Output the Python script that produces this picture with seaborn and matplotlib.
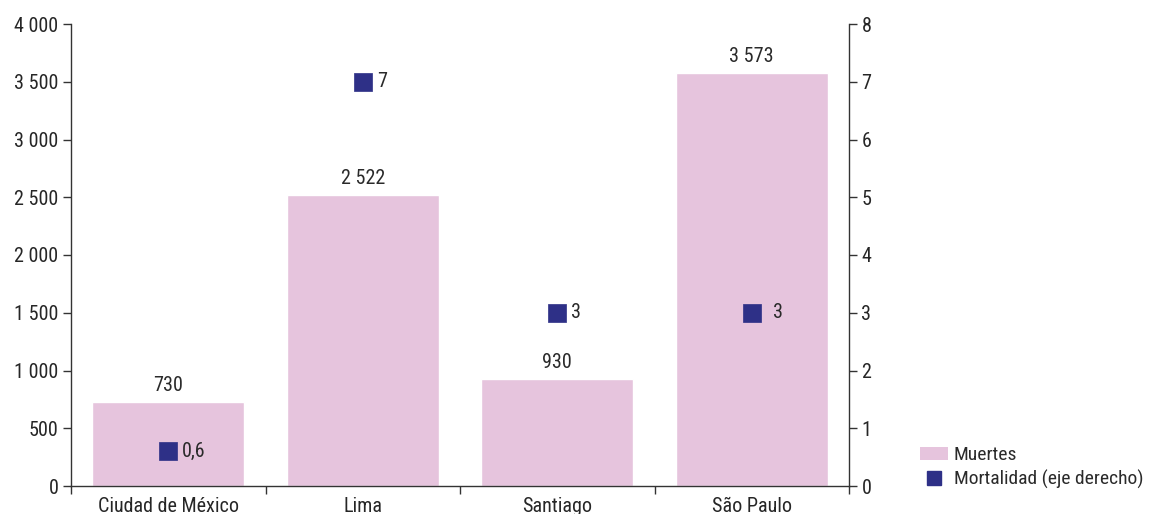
import matplotlib
matplotlib.use("Agg")
import matplotlib.pyplot as plt
import seaborn as sns
import pandas as pd
from matplotlib.patches import Patch
from matplotlib.lines import Line2D
from matplotlib.ticker import FuncFormatter, FixedLocator
from matplotlib import font_manager

cities = ["Ciudad de México", "Lima", "Santiago", "São Paulo"]
muertes = [730, 2522, 930, 3573]
mortalidad = [0.6, 7, 3, 3]
mort_labels = ["0,6", "7", "3", "3"]
legend_labels = ["Muertes", "Mortalidad (eje derecho)"]

bar_color = "#E6C4DD"
mark_color = "#2E3087"
axis_color = "#333333"

installed = {f.name for f in font_manager.fontManager.ttflist}
family = "DejaVu Sans"
for cand in ["Liberation Sans Narrow", "Roboto Condensed", "Open Sans Condensed", "Roboto"]:
    if cand in installed:
        family = cand
        break

FS = 14.5

sns.set_style("white")
plt.rcParams["font.family"] = [family, "DejaVu Sans"]
plt.rcParams["font.size"] = FS
plt.rcParams["text.color"] = "#2a2a2a"
plt.rcParams["font.stretch"] = "condensed"

df = pd.DataFrame({"city": cities, "muertes": muertes, "mortalidad": mortalidad})

fig = plt.figure(figsize=(11.51, 5.14), dpi=100)
ax = fig.add_axes([71/1151, 1-486/514, (849-71)/1151, (486-24)/514])
sns.barplot(data=df, x="city", y="muertes", color=bar_color, width=0.78,
            saturation=1, ax=ax)
ax.set_xlim(-0.5, 3.5)
ax.set_ylim(0, 4000)
ax.set_xlabel("")
ax.set_ylabel("")
ax.set_yticks(range(0, 4001, 500))
ax.yaxis.set_major_formatter(FuncFormatter(lambda v, p: f"{int(v):,}".replace(",", " ")))

for i, v in enumerate(muertes):
    ax.annotate(f"{v:,}".replace(",", " "), xy=(i, v), xytext=(0, 5),
                textcoords="offset points", ha="center", va="bottom", fontsize=FS)

ax.xaxis.set_major_locator(FixedLocator([-0.5, 0.5, 1.5, 2.5, 3.5]))
ax.xaxis.set_minor_locator(FixedLocator([0, 1, 2, 3]))
ax.set_xticklabels([], minor=False)
ax.set_xticklabels(cities, minor=True)
ax.tick_params(axis="x", which="major", length=6, width=1, color=axis_color, direction="out", bottom=True)
ax.tick_params(axis="x", which="minor", length=0, pad=8, labelsize=FS)
ax.tick_params(axis="y", length=6, width=1, color=axis_color, direction="out", left=True, labelsize=FS, pad=3)

for s in ["left", "bottom"]:
    ax.spines[s].set_color(axis_color)
    ax.spines[s].set_linewidth(1)
ax.spines["top"].set_visible(False)
ax.spines["right"].set_visible(False)

ax2 = ax.twinx()
sns.scatterplot(data=df, x="city", y="mortalidad", marker="s", s=160, color=mark_color,
                edgecolor=mark_color, linewidth=0.5, ax=ax2, zorder=5)
ax2.set_ylim(0, 8)
ax2.set_xlim(-0.5, 3.5)
ax2.set_yticks(range(0, 9))
ax2.set_ylabel("")
ax2.tick_params(axis="y", length=6, width=1, color=axis_color, direction="out", right=True, labelsize=FS, pad=3)
for s in ["top", "left", "bottom"]:
    ax2.spines[s].set_visible(False)
ax2.spines["right"].set_color(axis_color)
ax2.spines["right"].set_linewidth(1)

offsets = [10, 10, 10, 15]
for i, (v, lab) in enumerate(zip(mortalidad, mort_labels)):
    ax2.annotate(lab, xy=(i, v), xytext=(offsets[i], 0), textcoords="offset points",
                 ha="left", va="center", fontsize=FS)

handles = [Patch(facecolor=bar_color, edgecolor="none"),
           Line2D([], [], marker="s", linestyle="none", markersize=10,
                  markerfacecolor=mark_color, markeredgecolor=mark_color)]
fig.legend(handles, legend_labels, loc="lower left", bbox_to_anchor=(912/1151, 1-497/514),
           frameon=False, fontsize=14, handlelength=1.45, handletextpad=0.3,
           labelspacing=0.3, borderaxespad=0)

fig.savefig("out.png", dpi=100)
